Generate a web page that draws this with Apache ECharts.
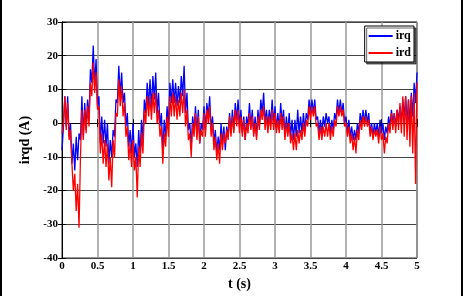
<!DOCTYPE html>
<html>
<head>
<meta charset="utf-8">
<script src="https://cdn.jsdelivr.net/npm/echarts@6/dist/echarts.min.js"></script>
<style>
html, body { margin: 0; padding: 0; background: #fff; }
#chart { width: 463px; height: 296px; box-sizing: border-box; border-left: 2px solid #000; border-right: 2px solid #000; }
</style>
</head>
<body>
<div id="chart"></div>
<script>
// sampling step of the traces (s)
var tStep = 0.02;
var xTicks = [0, 0.5, 1, 1.5, 2, 2.5, 3, 3.5, 4, 4.5, 5];
var yTicks = [-40, -30, -20, -10, 0, 10, 20, 30];

// irq, every 0.02 s
var irq = [
  -8, -1, 8, -1, 8, -4, 0, -12, -6, -14, -4, -11, -3, -5, 8, -4, 6, -2, 7, 1,
  16, 12, 23, 11, 19, 5, 8, -6, 2, -6, 1, -7, 0, -12, -5, -10, -2, -4, 7, 6,
  17, 8, 15, 6, 9, -1, 3, -7, -2, -9, 0, -10, -6, -13, -2, -9, 1, -5, 7, 3,
  12, 5, 13, 4, 14, 7, 15, 3, 9, -1, 3, -9, 1, -4, 5, -1, 12, 6, 13, 6,
  12, 5, 11, 6, 14, 8, 17, 3, 9, -2, 0, -7, 2, -2, 5, -3, 4, -6, 0, -2,
  5, -2, 6, 2, 8, -2, 2, -6, -2, -9, -4, -8, 0, -6, -1, -8, -1, -4, 3, -3,
  4, -2, 6, 1, 7, -1, 4, -3, 2, -5, 2, -1, 6, -1, 4, -3, 2, -4, 4, -1,
  7, 3, 9, 0, 4, -1, 4, 0, 7, 0, 5, -2, 3, -2, 6, 0, 4, -4, 2, -3,
  3, -4, 1, -5, 1, -4, 4, -3, 2, -3, 3, -2, 3, 1, 7, 3, 7, 3, 7, 1,
  2, -3, 1, -3, 2, -1, 3, 0, 2, -3, 1, -2, 3, 1, 7, 3, 7, 3, 6, 0,
  2, -3, 1, -4, -1, -5, -2, -5, 0, -3, 3, 0, 4, 0, 4, 0, 3, -3, 0, -4,
  0, -3, 0, -4, 1, -3, 0, -5, -1, -3, 2, -1, 4, 0, 3, -1, 4, 1, 5, 0,
  7, 2, 8, 0, 7, 0, 9, 2, 12, 6, 15
];

// ird, every 0.02 s
var ird = [
  -3, 0, 8, -2, 6, -5, -2, -12, -20, -15, -26, -18, -31, -10, 4, -5, 4, -3, 5, -1,
  12, 8, 18, 9, 15, 4, 5, -9, -3, -12, -5, -13, -6, -17, -10, -19, -5, -10, 3, 2,
  13, 5, 11, 2, 6, -4, -1, -11, -6, -13, -5, -14, -10, -22, -7, -13, -3, -9, 4, 0,
  8, 2, 8, 1, 9, 3, 9, 0, 4, -4, -1, -12, -3, -7, 2, -4, 8, 2, 9, 2,
  8, 1, 7, 2, 9, 3, 10, -1, 4, -5, -3, -10, 0, -4, 3, -5, 2, -6, -2, -4,
  3, -4, 4, 0, 5, -4, 0, -8, -4, -11, -6, -12, -3, -8, -3, -6, -2, -5, 2, -4,
  2, -3, 4, -1, 4, -3, 2, -4, 1, -5, 0, -3, 3, -2, 2, -4, 0, -5, 2, -2,
  4, 1, 5, -2, 2, -3, 2, -2, 4, -2, 3, -3, 1, -3, 3, -2, 2, -5, 0, -4,
  0, -6, -3, -8, -3, -8, -2, -6, -2, -5, 0, -4, 1, -1, 5, 1, 5, 2, 5, -1,
  0, -5, -1, -5, -1, -4, 0, -4, 0, -5, -1, -4, 1, -1, 5, 2, 5, 2, 4, -1,
  0, -4, -1, -6, -3, -8, -4, -9, -2, -5, 1, -2, 2, -1, 2, -1, 1, -4, -1, -5,
  -2, -4, -2, -6, -1, -5, -3, -9, -4, -6, 0, -3, 3, -2, 3, -3, 4, -2, 6, -3,
  8, -4, 8, -5, 7, -7, 8, -9, 9, -18, 12
];

function pairs(vals) {
  return vals.map(function (v, i) { return [+(i * tStep).toFixed(2), v]; });
}

var chart = echarts.init(document.getElementById('chart'));
var serif = '"Liberation Serif", "DejaVu Serif", serif';
var lblStyle = { color: '#000', fontFamily: serif, fontWeight: 'bold', fontSize: 11 };

chart.setOption({
  animation: false,
  grid: { left: 60, right: 44, top: 22, bottom: 33, show: true, borderColor: '#000', borderWidth: 1 },
  legend: {
    data: ['irq', 'ird'],
    orient: 'vertical',
    right: 47,
    top: 26,
    padding: [4, 3, 3, 4],
    itemGap: 5,
    itemWidth: 24,
    itemHeight: 2,
    icon: 'rect',
    backgroundColor: '#fff',
    borderColor: '#000',
    borderWidth: 1,
    shadowColor: 'rgba(0,0,0,0.6)',
    shadowOffsetX: 2,
    shadowOffsetY: 2,
    textStyle: { color: '#000', fontFamily: serif, fontWeight: 'bold', fontSize: 12, padding: [0, 0, 0, -2] }
  },
  xAxis: [{
    type: 'value', min: xTicks[0], max: xTicks[xTicks.length - 1], interval: 0.5,
    name: 't (s)', nameLocation: 'middle', nameGap: 17,
    nameTextStyle: { color: '#000', fontFamily: serif, fontWeight: 'bold', fontSize: 14 },
    axisLine: { lineStyle: { color: '#000' } },
    axisTick: { inside: true, length: 4, lineStyle: { color: '#000' } },
    axisLabel: Object.assign({ margin: 3 }, lblStyle),
    splitLine: { show: true, lineStyle: { color: '#999', width: 1.5 } }
  }, {
    type: 'value', position: 'top', min: 0, max: 5, interval: 0.5,
    axisLine: { lineStyle: { color: '#000' } },
    axisTick: { inside: true, length: 4, lineStyle: { color: '#000' } },
    axisLabel: { show: false }, splitLine: { show: false }
  }],
  yAxis: [{
    type: 'value', min: yTicks[0], max: yTicks[yTicks.length - 1], interval: 10,
    name: 'irqd (A)', nameLocation: 'middle', nameGap: 22, nameRotate: 90,
    nameTextStyle: { color: '#000', fontFamily: serif, fontWeight: 'bold', fontSize: 14 },
    axisLine: { lineStyle: { color: '#000' } },
    axisTick: { inside: true, length: 4, lineStyle: { color: '#000' } },
    axisLabel: Object.assign({ margin: 4 }, lblStyle),
    splitLine: { show: true, lineStyle: { color: '#444', width: 1 } }
  }, {
    type: 'value', position: 'right', min: -40, max: 30, interval: 10,
    axisLine: { lineStyle: { color: '#000' } },
    axisTick: { inside: true, length: 4, lineStyle: { color: '#000' } },
    axisLabel: { show: false }, splitLine: { show: false }
  }],
  series: [{
    name: 'irq', type: 'line', data: pairs(irq), showSymbol: false,
    color: '#0000ff', lineStyle: { width: 1.3, color: '#0000ff' }
  }, {
    name: 'ird', type: 'line', data: pairs(ird), showSymbol: false,
    color: '#ff0000', lineStyle: { width: 1.3, color: '#ff0000' }
  }]
});
</script>
</body>
</html>
